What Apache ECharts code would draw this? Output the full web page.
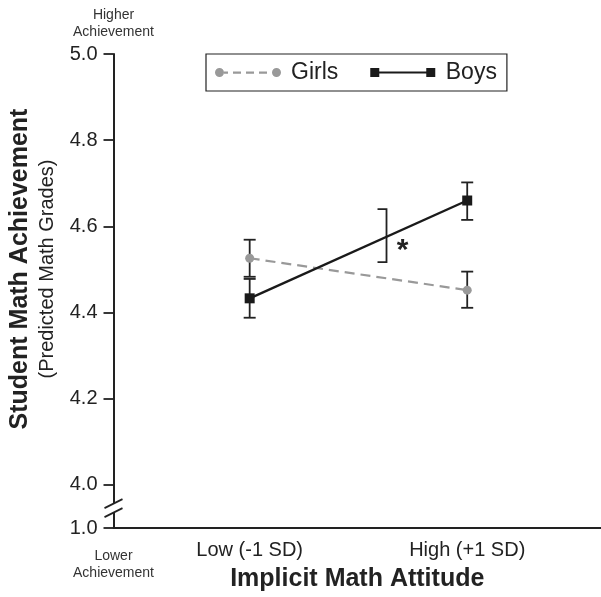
<!DOCTYPE html>
<html>
<head>
<meta charset="utf-8">
<script src="https://cdn.jsdelivr.net/npm/echarts@6/dist/echarts.min.js"></script>
<style>
  html, body { margin: 0; padding: 0; background: #fff; }
  #chart { width: 601px; height: 597px; }
</style>
</head>
<body>
<div id="chart"></div>
<script>
// ---- data ----
var categories = ['Low (-1 SD)', 'High (+1 SD)'];
var xPositions = [1, 2];
var girls = [4.526, 4.452];
var girlsLower = [4.483, 4.411];
var girlsUpper = [4.569, 4.495];
var boys = [4.433, 4.660];
var boysLower = [4.388, 4.615];
var boysUpper = [4.478, 4.702];
var yTicks = [3.9, 4.0, 4.2, 4.4, 4.6, 4.8, 5.0];
var yTickLabels = ['1.0', '4.0', '4.2', '4.4', '4.6', '4.8', '5.0'];
var bracket = [1.629, 4.517, 4.640];   // x, low, high of significance bracket
var breakValue = 3.946;                // where the axis break marks sit

var FONT = '"Liberation Sans", Arial, Helvetica, sans-serif';
var INK = '#222';

var chart = echarts.init(document.getElementById('chart'), null, { renderer: 'canvas' });

function errData(lower, upper) {
  return xPositions.map(function (x, i) { return [x, lower[i], upper[i]]; });
}
function errRender(params, api) {
  var x = api.value(0);
  var lo = api.coord([x, api.value(1)]);
  var hi = api.coord([x, api.value(2)]);
  var w = 6;
  var st = { stroke: INK, lineWidth: 1.8 };
  return {
    type: 'group',
    children: [
      { type: 'line', shape: { x1: lo[0], y1: lo[1], x2: hi[0], y2: hi[1] }, style: st },
      { type: 'line', shape: { x1: lo[0] - w, y1: lo[1], x2: lo[0] + w, y2: lo[1] }, style: st },
      { type: 'line', shape: { x1: hi[0] - w, y1: hi[1], x2: hi[0] + w, y2: hi[1] }, style: st }
    ]
  };
}

var girlsIcon = 'path://M0,4.5a4.5,4.5 0 1,0 9,0a4.5,4.5 0 1,0 -9,0Z M9,3.5h4v2.2h-4Z M18,3.5h8v2.2h-8Z M31,3.5h8v2.2h-8Z M44,3.5h8v2.2h-8Z M57,4.5a4.5,4.5 0 1,0 9,0a4.5,4.5 0 1,0 -9,0Z';
var boysIcon = 'path://M0,0h9v9h-9Z M9,3.5h47v2h-47Z M56,0h9v9h-9Z';

var option = {
  animation: false,
  backgroundColor: '#fff',
  textStyle: { fontFamily: FONT },
  grid: { left: 111, right: 0, top: 54, bottom: 69, containLabel: false },
  legend: {
    left: 206, top: 54,
    orient: 'horizontal',
    borderColor: INK, borderWidth: 1.2,
    padding: [7, 10, 7, 9],
    itemGap: 32,
    itemWidth: 66, itemHeight: 9,
    textStyle: { fontFamily: FONT, fontSize: 23, color: INK, padding: [0, 0, 0, 5] },
    data: [
      { name: 'Girls', icon: girlsIcon, itemStyle: { color: '#999', borderWidth: 0 } },
      { name: 'Boys', icon: boysIcon, itemStyle: { color: '#1a1a1a', borderWidth: 0 } }
    ]
  },
  xAxis: {
    type: 'value',
    min: 0.374, max: 2.615,
    axisLine: { onZero: false, lineStyle: { color: INK, width: 2 } },
    axisTick: { show: false },
    splitLine: { show: false },
    axisLabel: {
      customValues: xPositions,
      formatter: function (v) { return categories[xPositions.indexOf(v)] || ''; },
      fontFamily: FONT, fontSize: 20, color: INK, margin: 12
    },
    name: 'Implicit Math Attitude',
    nameLocation: 'middle',
    nameGap: 39,
    nameTextStyle: { fontFamily: FONT, fontSize: 25, fontWeight: 'bold', color: INK }
  },
  yAxis: {
    type: 'value',
    min: 3.9, max: 5.0,
    axisLine: { onZero: false, lineStyle: { color: INK, width: 2 } },
    axisTick: { customValues: yTicks, length: 10, lineStyle: { color: INK, width: 1.8 } },
    splitLine: { show: false },
    axisLabel: {
      customValues: yTicks,
      formatter: function (v) {
        var i = yTicks.findIndex(function (t) { return Math.abs(t - v) < 1e-6; });
        return i >= 0 ? yTickLabels[i] : '';
      },
      fontFamily: FONT, fontSize: 20, color: INK, margin: 16
    },
    name: '{a|Student Math Achievement}\n{b|(Predicted Math Grades)}',
    nameLocation: 'middle',
    nameRotate: 90,
    nameGap: 54,
    nameTextStyle: {
      align: 'center',
      padding: [0, 0, 0, 44],
      rich: {
        a: { fontFamily: FONT, fontSize: 25, fontWeight: 'bold', color: INK, lineHeight: 30 },
        b: { fontFamily: FONT, fontSize: 20, color: INK, lineHeight: 24 }
      }
    }
  },
  series: [
    {
      type: 'custom', name: 'girlsErr', z: 1,
      renderItem: errRender, data: errData(girlsLower, girlsUpper), silent: true
    },
    {
      type: 'custom', name: 'boysErr', z: 1,
      renderItem: errRender, data: errData(boysLower, boysUpper), silent: true
    },
    {
      type: 'line', name: 'Girls', z: 3,
      data: xPositions.map(function (x, i) { return [x, girls[i]]; }),
      symbol: 'circle', symbolSize: 9, showAllSymbol: true,
      itemStyle: { color: '#999' },
      lineStyle: { color: '#999', width: 2.2, type: [10, 6] }
    },
    {
      type: 'line', name: 'Boys', z: 4,
      data: xPositions.map(function (x, i) { return [x, boys[i]]; }),
      symbol: 'rect', symbolSize: 10,
      itemStyle: { color: '#1a1a1a' },
      lineStyle: { color: '#1a1a1a', width: 2.4 }
    },
    {
      type: 'custom', name: 'bracket', z: 2, silent: true,
      data: [bracket],
      renderItem: function (params, api) {
        var x = api.value(0);
        var lo = api.coord([x, api.value(1)]);
        var hi = api.coord([x, api.value(2)]);
        var st = { stroke: INK, lineWidth: 1.8, fill: null };
        return {
          type: 'group',
          children: [
            { type: 'polyline', shape: { points: [[hi[0] - 9, hi[1]], [hi[0], hi[1]], [lo[0], lo[1]], [lo[0] - 9, lo[1]]] }, style: st },
            { type: 'text', style: { text: '*', x: lo[0] + 16, y: (lo[1] + hi[1]) / 2 + 15, fill: INK, font: 'bold 30px ' + FONT, align: 'center', verticalAlign: 'middle' } }
          ]
        };
      }
    }
  ]
};

chart.setOption(option);

// axis-break marks and end captions, positioned through the axis scales
var xMin = option.xAxis.min;
var pb = chart.convertToPixel({ gridIndex: 0 }, [xMin, breakValue]);
var pTop = chart.convertToPixel({ gridIndex: 0 }, [xMin, 5.0]);
var pBot = chart.convertToPixel({ gridIndex: 0 }, [xMin, 3.9]);
var ax = pb[0], ay = pb[1];
var dx = 9, dy = 4.5, off = 4.5;
chart.setOption({
  graphic: [
    { type: 'polygon', z: 100, shape: { points: [[ax - 3, ay + off + 1.5], [ax + 3, ay + off - 1.5], [ax + 3, ay - off - 1.5], [ax - 3, ay - off + 1.5]] }, style: { fill: '#fff' } },
    { type: 'line', z: 101, shape: { x1: ax - dx, y1: ay - off + dy, x2: ax + dx, y2: ay - off - dy }, style: { stroke: INK, lineWidth: 1.8 } },
    { type: 'line', z: 101, shape: { x1: ax - dx, y1: ay + off + dy, x2: ax + dx, y2: ay + off - dy }, style: { stroke: INK, lineWidth: 1.8 } },
    { type: 'text', z: 101, style: { text: 'Higher\nAchievement', x: pTop[0], y: pTop[1] - 30, align: 'center', verticalAlign: 'middle', font: '14px ' + FONT, fill: '#333', lineHeight: 17 } },
    { type: 'text', z: 101, style: { text: 'Lower\nAchievement', x: pBot[0], y: pBot[1] + 37, align: 'center', verticalAlign: 'middle', font: '14px ' + FONT, fill: '#333', lineHeight: 17 } }
  ]
});
</script>
</body>
</html>
